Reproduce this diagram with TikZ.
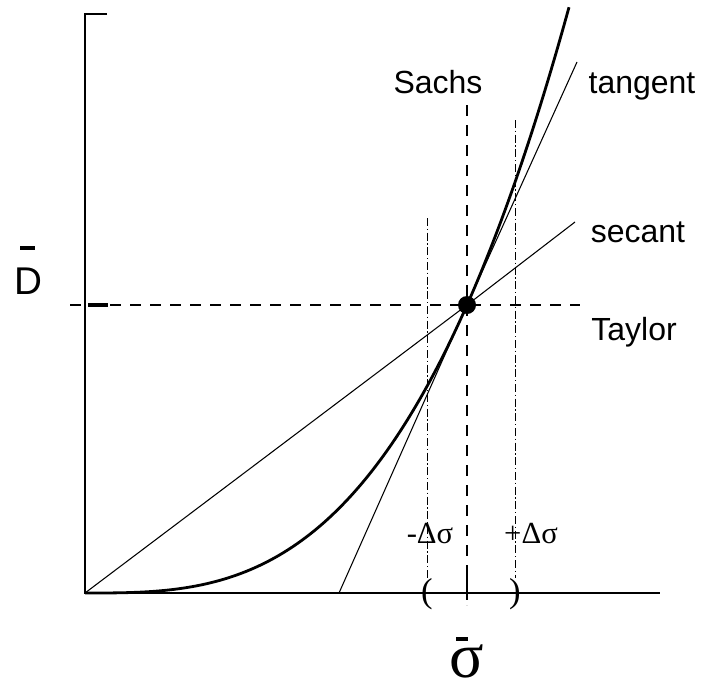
\documentclass[tikz,border=0pt]{standalone}
\usepackage{fontspec}
\setmainfont{Liberation Sans}
\newfontfamily\greekserif{Liberation Serif}
\tikzset{every picture/.style={line width=0.75pt}}

\begin{document}
\begin{tikzpicture}[x=0.75pt,y=0.75pt,yscale=-1,xscale=1,
  axis/.style={line width=1.9pt},
  thinline/.style={line width=0.8pt},
  curve/.style={line width=2.1pt},
  guide/.style={line width=0.9pt,dash pattern={on 8pt off 7pt}},
  bound/.style={line width=0.7pt,dash pattern={on 6pt off 2pt on 1pt off 2pt}},
  lbl/.style={font=\fontsize{24}{28}\selectfont,anchor=base},
  dlbl/.style={font=\greekserif\fontsize{23}{26}\selectfont,anchor=base}]
\useasboundingbox (0,0) rectangle (702,689);

\coordinate (O) at (85,593);
\coordinate (P) at (467,305);

%Shape: Axes
\draw [axis] (107,14) -- (85,14) -- (O) -- (660,593) ;
%Shape: Tick on D axis
\draw [line width=3pt] (88,305) -- (108,305) ;
%Shape: Taylor line
\draw [guide] (70,305) -- (580,305) ;
%Shape: Sachs line
\draw [guide] (467,105) -- (467,605) ;
\draw [line width=1.4pt] (467,570) -- (467,600) ;
%Shape: bounds
\draw [bound] (427,218) -- (427,578) ;
\draw [bound] (515,120) -- (515,578) ;

%Shape: secant and tangent
\draw [thinline] (O) -- (P) -- (575,222) ;
\draw [thinline] (339,593) -- (P) -- (577,62) ;

%Shape: curve
\draw [curve] plot[domain=0:484,samples=80,smooth] ({85+\x},{593-288*(\x/382)^3}) ;

%Shape: point
\node [circle,fill,inner sep=0pt,minimum size=13.5pt] (dot) at (P) {};

% Text Node
\node [lbl] (sachs) at (438,93) {Sachs};
% Text Node
\node [lbl] (tangent) at (642,93) {tangent};
% Text Node
\node [lbl] (secant) at (638,242) {secant};
% Text Node
\node [lbl] (taylor) at (634,340) {Taylor};
% Text Node
\node [dlbl] (minus) at (430,543) {-Δσ};
% Text Node
\node [dlbl] (plus) at (531,543) {+Δσ};
% Text Node
\node [font=\greekserif\fontsize{26}{28}\selectfont] (lpar) at (427,594) {(};
\node [font=\greekserif\fontsize{26}{28}\selectfont] (rpar) at (515,594) {)};
% Text Node
\node [font=\fontsize{29}{32}\selectfont] (dee) at (28,281) {D};
\draw [line width=3pt] (20,248) -- (35,248) ;
% Text Node
\node [font=\greekserif\fontsize{48}{52}\selectfont,anchor=base,inner sep=0pt] (sigma) at (467,677) {σ};
\draw [line width=3pt] (456,639) -- (468,639) ;

\end{tikzpicture}
\end{document}
